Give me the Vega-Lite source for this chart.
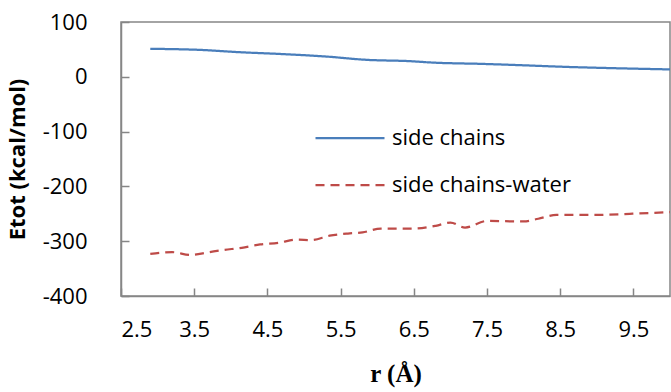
{
  "$schema": "https://vega.github.io/schema/vega-lite/v6.json",
  "autosize": "none",
  "width": 549,
  "height": 274,
  "padding": {"left": 121, "top": 22, "right": 1, "bottom": 96},
  "background": "white",
  "config": {
    "view": {"stroke": "#868686", "strokeWidth": 1.5},
    "font": "Open Sans"
  },
  "datasets": {
    "lines": [
      {"r": 2.9, "E": 51, "series": "side chains"},
      {"r": 3.2, "E": 50.5, "series": "side chains"},
      {"r": 3.6, "E": 49, "series": "side chains"},
      {"r": 4.1, "E": 45, "series": "side chains"},
      {"r": 4.7, "E": 41.5, "series": "side chains"},
      {"r": 5.3, "E": 37, "series": "side chains"},
      {"r": 5.85, "E": 31, "series": "side chains"},
      {"r": 6.45, "E": 28.5, "series": "side chains"},
      {"r": 6.75, "E": 26, "series": "side chains"},
      {"r": 7.45, "E": 23.5, "series": "side chains"},
      {"r": 8.0, "E": 21, "series": "side chains"},
      {"r": 8.6, "E": 18, "series": "side chains"},
      {"r": 9.0, "E": 16.5, "series": "side chains"},
      {"r": 10.0, "E": 13.5, "series": "side chains"},
      {"r": 2.9, "E": -323, "series": "side chains-water"},
      {"r": 3.2, "E": -320, "series": "side chains-water"},
      {"r": 3.45, "E": -325, "series": "side chains-water"},
      {"r": 3.7, "E": -320, "series": "side chains-water"},
      {"r": 3.9, "E": -316, "series": "side chains-water"},
      {"r": 4.15, "E": -312, "series": "side chains-water"},
      {"r": 4.4, "E": -306, "series": "side chains-water"},
      {"r": 4.65, "E": -303, "series": "side chains-water"},
      {"r": 4.9, "E": -297, "series": "side chains-water"},
      {"r": 5.1, "E": -298, "series": "side chains-water"},
      {"r": 5.35, "E": -290, "series": "side chains-water"},
      {"r": 5.6, "E": -286, "series": "side chains-water"},
      {"r": 5.8, "E": -284, "series": "side chains-water"},
      {"r": 6.05, "E": -277, "series": "side chains-water"},
      {"r": 6.5, "E": -277, "series": "side chains-water"},
      {"r": 6.8, "E": -272, "series": "side chains-water"},
      {"r": 7.0, "E": -266, "series": "side chains-water"},
      {"r": 7.2, "E": -275, "series": "side chains-water"},
      {"r": 7.5, "E": -263, "series": "side chains-water"},
      {"r": 8.0, "E": -264, "series": "side chains-water"},
      {"r": 8.2, "E": -259, "series": "side chains-water"},
      {"r": 8.45, "E": -252, "series": "side chains-water"},
      {"r": 9.0, "E": -252, "series": "side chains-water"},
      {"r": 9.45, "E": -250, "series": "side chains-water"},
      {"r": 10.0, "E": -247, "series": "side chains-water"}
    ]
  },
  "layer": [
    {
      "data": {"name": "lines"},
      "mark": {"type": "line", "strokeWidth": 2.25, "interpolate": "monotone", "clip": true},
      "encoding": {
        "x": {
          "field": "r", "type": "quantitative",
          "scale": {"domain": [2.5, 10], "nice": false, "zero": false},
          "axis": {
            "values": [2.5, 3.5, 4.5, 5.5, 6.5, 7.5, 8.5, 9.5],
            "labelExpr": "format(datum.value, '.1f')",
            "grid": false,
            "domainColor": "#868686", "domainWidth": 1.5,
            "tickColor": "#868686", "tickWidth": 1.5, "tickSize": -8,
            "labelFontSize": 22, "labelColor": "#000000", "labelPadding": 31,
            "labelFont": "Open Sans",
            "title": "r (Å)", "titleFont": "Liberation Serif", "titleFontWeight": "bold",
            "titleFontSize": 25, "titleColor": "#000000", "titlePadding": 21
          }
        },
        "y": {
          "field": "E", "type": "quantitative",
          "scale": {"domain": [-400, 100], "nice": false},
          "axis": {
            "values": [-400, -300, -200, -100, 0, 100],
            "labelExpr": "'' + datum.value",
            "grid": false,
            "domainColor": "#868686", "domainWidth": 1.5,
            "tickColor": "#868686", "tickWidth": 1.5, "tickSize": -8,
            "labelFontSize": 22, "labelColor": "#000000", "labelPadding": 42,
            "labelFont": "Open Sans",
            "title": "Etot (kcal/mol)", "titleFont": "Open Sans", "titleFontWeight": "bold",
            "titleFontSize": 22, "titleColor": "#000000", "titlePadding": 13
          }
        },
        "color": {
          "field": "series", "type": "nominal",
          "scale": {"domain": ["side chains", "side chains-water"], "range": ["#4A7EBB", "#BE4B48"]},
          "legend": {
            "orient": "none", "legendX": 193, "legendY": 80,
            "title": null,
            "symbolType": "stroke", "symbolSize": 4761, "symbolStrokeWidth": 2.25,
            "labelFontSize": 22, "labelFont": "Open Sans", "labelColor": "#000000",
            "labelOffset": 6, "rowPadding": -22, "labelLimit": 400
          }
        },
        "strokeDash": {
          "field": "series", "type": "nominal",
          "scale": {"domain": ["side chains", "side chains-water"], "range": [[1, 0], [9, 6]]},
          "legend": null
        }
      }
    },
    {
      "mark": {"type": "rule", "color": "#000000", "strokeWidth": 1.5},
      "encoding": {"y": {"datum": 100}}
    }
  ]
}
